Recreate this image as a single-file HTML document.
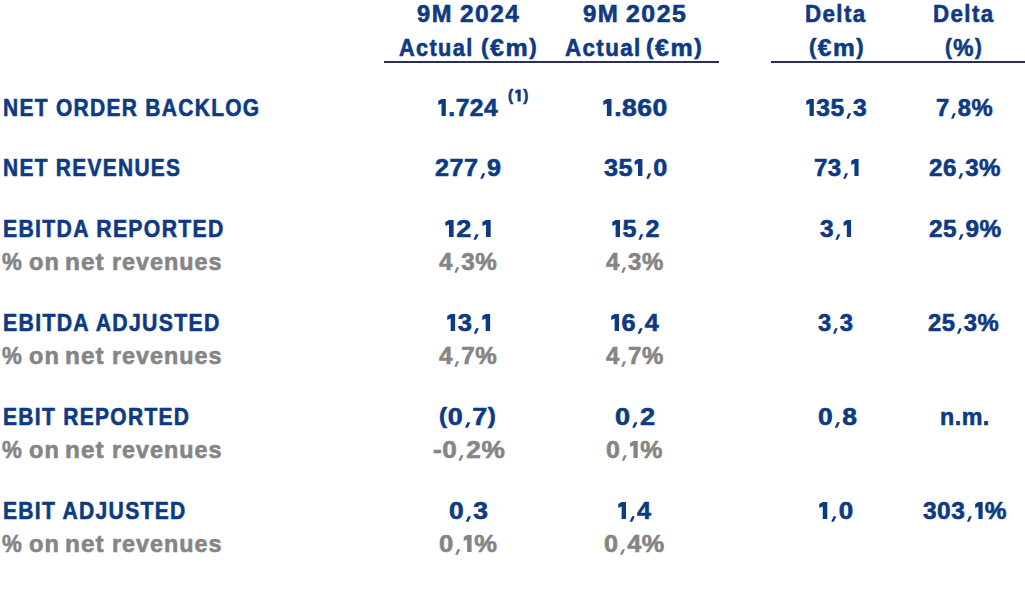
<!DOCTYPE html>
<html><head><meta charset="utf-8"><style>
html,body{margin:0;padding:0;background:#fff;width:1025px;height:591px;overflow:hidden}
.t{position:absolute;white-space:nowrap;font-family:"Liberation Sans",sans-serif;font-weight:bold;line-height:1;transform-origin:0 0;-webkit-text-stroke:0.5px currentColor}
.pp{font-size:0.9em;position:relative;top:-2px}
.one{width:0.4167em;height:0.7083em;fill:currentColor;vertical-align:baseline;margin-right:1px}
.cm{width:0.3em;height:0.25em;fill:currentColor;vertical-align:-0.125em;margin-right:1px}
.one1{width:0.45em;height:0.8125em;fill:currentColor;vertical-align:-1px;margin:0 2px 0 1px}
.ln{position:absolute;height:2px;background:#2a3150}
</style></head><body>
<div class="t" style="left:417.00px;top:2.00px;font-size:24px;color:#0d3a82;-webkit-text-stroke:0.6px #0d3a82;letter-spacing:1.5px;transform:scaleX(0.9856)">9M</div><div class="t" style="left:460.00px;top:2.00px;font-size:24px;color:#0d3a82;-webkit-text-stroke:0.6px #0d3a82;letter-spacing:1.5px;transform:scaleX(1.0174)">2024</div><div class="t" style="left:399.05px;top:36.00px;font-size:24px;color:#0d3a82;-webkit-text-stroke:0.6px #0d3a82;letter-spacing:1.5px;transform:scaleX(0.9052)">Actual</div><div class="t" style="left:480.97px;top:36.00px;font-size:24px;color:#0d3a82;-webkit-text-stroke:0.6px #0d3a82;letter-spacing:1.5px;transform:scaleX(1.0382)"><span class="pp">(</span>€m<span class="pp">)</span></div><div class="t" style="left:583.00px;top:2.00px;font-size:24px;color:#0d3a82;-webkit-text-stroke:0.6px #0d3a82;letter-spacing:1.5px;transform:scaleX(1.0000)">9M</div><div class="t" style="left:626.00px;top:2.00px;font-size:24px;color:#0d3a82;-webkit-text-stroke:0.6px #0d3a82;letter-spacing:1.5px;transform:scaleX(1.0345)">2025</div><div class="t" style="left:565.44px;top:36.00px;font-size:24px;color:#0d3a82;-webkit-text-stroke:0.6px #0d3a82;letter-spacing:1.5px;transform:scaleX(0.9305)">Actual</div><div class="t" style="left:645.96px;top:36.00px;font-size:24px;color:#0d3a82;-webkit-text-stroke:0.6px #0d3a82;letter-spacing:1.5px;transform:scaleX(1.0387)"><span class="pp">(</span>€m<span class="pp">)</span></div><div class="t" style="left:804.89px;top:2.00px;font-size:24px;color:#0d3a82;-webkit-text-stroke:0.6px #0d3a82;letter-spacing:1.5px;transform:scaleX(0.9298)">Delta</div><div class="t" style="left:808.98px;top:36.00px;font-size:24px;color:#0d3a82;-webkit-text-stroke:0.6px #0d3a82;letter-spacing:1.5px;transform:scaleX(1.0192)"><span class="pp">(</span>€m<span class="pp">)</span></div><div class="t" style="left:933.10px;top:2.00px;font-size:24px;color:#0d3a82;-webkit-text-stroke:0.6px #0d3a82;letter-spacing:1.5px;transform:scaleX(0.9298)">Delta</div><div class="t" style="left:945.22px;top:36.00px;font-size:24px;color:#0d3a82;-webkit-text-stroke:0.6px #0d3a82;letter-spacing:1.5px;transform:scaleX(0.9478)"><span class="pp">(</span>%<span class="pp">)</span></div><div class="t" style="left:3.13px;top:96.00px;font-size:24px;color:#0d3a82;-webkit-text-stroke:0.6px #0d3a82;letter-spacing:1.5px;transform:scaleX(0.8733)">NET ORDER BACKLOG</div><div class="t" style="left:436.77px;top:96.00px;font-size:24px;color:#0d3a82;-webkit-text-stroke:0.6px #0d3a82;letter-spacing:0.5px;transform:scaleX(1.0255)"><svg class="one" viewBox="0 0 10 17"><path d="M4.4,0H8.6V17H4.4V4.5L1.2,5.9V1.9Z"/></svg>.724</div><div class="t" style="left:508.00px;top:88.00px;font-size:16px;color:#0d3a82;-webkit-text-stroke:0.6px #0d3a82;letter-spacing:0.5px;transform:scaleX(0.9524)">(<svg class="one1" viewBox="0 0 10 17"><path d="M4.2,0H8.8V17H4.2V4.5L1.0,5.9V1.9Z"/></svg>)</div><div class="t" style="left:601.90px;top:96.00px;font-size:24px;color:#0d3a82;-webkit-text-stroke:0.6px #0d3a82;letter-spacing:0.5px;transform:scaleX(1.1034)"><svg class="one" viewBox="0 0 10 17"><path d="M4.4,0H8.6V17H4.4V4.5L1.2,5.9V1.9Z"/></svg>.860</div><div class="t" style="left:804.56px;top:96.00px;font-size:24px;color:#0d3a82;-webkit-text-stroke:0.6px #0d3a82;letter-spacing:0.5px;transform:scaleX(1.0256)"><svg class="one" viewBox="0 0 10 17"><path d="M4.4,0H8.6V17H4.4V4.5L1.2,5.9V1.9Z"/></svg>35<svg class="cm" viewBox="0 0 7.2 6"><path d="M3.4,0.3H6L3.6,5.8H1.2Z"/></svg>3</div><div class="t" style="left:936.20px;top:96.00px;font-size:24px;color:#0d3a82;-webkit-text-stroke:0.6px #0d3a82;letter-spacing:0.5px;transform:scaleX(0.9913)">7<svg class="cm" viewBox="0 0 7.2 6"><path d="M3.4,0.3H6L3.6,5.8H1.2Z"/></svg>8%</div><div class="t" style="left:3.13px;top:156.00px;font-size:24px;color:#0d3a82;-webkit-text-stroke:0.6px #0d3a82;letter-spacing:1.5px;transform:scaleX(0.8713)">NET REVENUES</div><div class="t" style="left:435.00px;top:156.00px;font-size:24px;color:#0d3a82;-webkit-text-stroke:0.6px #0d3a82;letter-spacing:0.5px;transform:scaleX(1.0476)">277<svg class="cm" viewBox="0 0 7.2 6"><path d="M3.4,0.3H6L3.6,5.8H1.2Z"/></svg>9</div><div class="t" style="left:604.00px;top:156.00px;font-size:24px;color:#0d3a82;-webkit-text-stroke:0.6px #0d3a82;letter-spacing:0.5px;transform:scaleX(1.0500)">35<svg class="one" viewBox="0 0 10 17"><path d="M4.4,0H8.6V17H4.4V4.5L1.2,5.9V1.9Z"/></svg><svg class="cm" viewBox="0 0 7.2 6"><path d="M3.4,0.3H6L3.6,5.8H1.2Z"/></svg>0</div><div class="t" style="left:814.00px;top:156.00px;font-size:24px;color:#0d3a82;-webkit-text-stroke:0.6px #0d3a82;letter-spacing:0.5px;transform:scaleX(1.0002)">73<svg class="cm" viewBox="0 0 7.2 6"><path d="M3.4,0.3H6L3.6,5.8H1.2Z"/></svg><svg class="one" viewBox="0 0 10 17"><path d="M4.4,0H8.6V17H4.4V4.5L1.2,5.9V1.9Z"/></svg></div><div class="t" style="left:929.00px;top:156.00px;font-size:24px;color:#0d3a82;-webkit-text-stroke:0.6px #0d3a82;letter-spacing:0.5px;transform:scaleX(1.0071)">26<svg class="cm" viewBox="0 0 7.2 6"><path d="M3.4,0.3H6L3.6,5.8H1.2Z"/></svg>3%</div><div class="t" style="left:3.12px;top:217.00px;font-size:24px;color:#0d3a82;-webkit-text-stroke:0.6px #0d3a82;letter-spacing:1.5px;transform:scaleX(0.8831)">EBITDA REPORTED</div><div class="t" style="left:2.21px;top:250.00px;font-size:24px;color:#858585;-webkit-text-stroke:0.6px #858585;letter-spacing:1.0px;transform:scaleX(0.9295)">%</div><div class="t" style="left:28.79px;top:250.00px;font-size:24px;color:#858585;-webkit-text-stroke:0.6px #858585;letter-spacing:1.0px;transform:scaleX(0.9829)">on</div><div class="t" style="left:65.18px;top:250.00px;font-size:24px;color:#858585;-webkit-text-stroke:0.6px #858585;letter-spacing:1.0px;transform:scaleX(1.0139)">net</div><div class="t" style="left:112.03px;top:250.00px;font-size:24px;color:#858585;-webkit-text-stroke:0.6px #858585;letter-spacing:1.0px;transform:scaleX(0.9730)">revenues</div><div class="t" style="left:444.49px;top:217.00px;font-size:24px;color:#0d3a82;-webkit-text-stroke:0.6px #0d3a82;letter-spacing:0.5px;transform:scaleX(1.1223)"><svg class="one" viewBox="0 0 10 17"><path d="M4.4,0H8.6V17H4.4V4.5L1.2,5.9V1.9Z"/></svg>2<svg class="cm" viewBox="0 0 7.2 6"><path d="M3.4,0.3H6L3.6,5.8H1.2Z"/></svg><svg class="one" viewBox="0 0 10 17"><path d="M4.4,0H8.6V17H4.4V4.5L1.2,5.9V1.9Z"/></svg></div><div class="t" style="left:610.78px;top:217.00px;font-size:24px;color:#0d3a82;-webkit-text-stroke:0.6px #0d3a82;letter-spacing:0.5px;transform:scaleX(1.0446)"><svg class="one" viewBox="0 0 10 17"><path d="M4.4,0H8.6V17H4.4V4.5L1.2,5.9V1.9Z"/></svg>5<svg class="cm" viewBox="0 0 7.2 6"><path d="M3.4,0.3H6L3.6,5.8H1.2Z"/></svg>2</div><div class="t" style="left:819.80px;top:217.00px;font-size:24px;color:#0d3a82;-webkit-text-stroke:0.6px #0d3a82;letter-spacing:0.5px;transform:scaleX(1.0162)">3<svg class="cm" viewBox="0 0 7.2 6"><path d="M3.4,0.3H6L3.6,5.8H1.2Z"/></svg><svg class="one" viewBox="0 0 10 17"><path d="M4.4,0H8.6V17H4.4V4.5L1.2,5.9V1.9Z"/></svg></div><div class="t" style="left:929.20px;top:217.00px;font-size:24px;color:#0d3a82;-webkit-text-stroke:0.6px #0d3a82;letter-spacing:0.5px;transform:scaleX(1.0142)">25<svg class="cm" viewBox="0 0 7.2 6"><path d="M3.4,0.3H6L3.6,5.8H1.2Z"/></svg>9%</div><div class="t" style="left:439.20px;top:250.00px;font-size:24px;color:#858585;-webkit-text-stroke:0.6px #858585;letter-spacing:0.5px;transform:scaleX(1.0089)">4<svg class="cm" viewBox="0 0 7.2 6"><path d="M3.4,0.3H6L3.6,5.8H1.2Z"/></svg>3%</div><div class="t" style="left:605.81px;top:250.00px;font-size:24px;color:#858585;-webkit-text-stroke:0.6px #858585;letter-spacing:0.5px;transform:scaleX(1.0002)">4<svg class="cm" viewBox="0 0 7.2 6"><path d="M3.4,0.3H6L3.6,5.8H1.2Z"/></svg>3%</div><div class="t" style="left:3.12px;top:311.00px;font-size:24px;color:#0d3a82;-webkit-text-stroke:0.6px #0d3a82;letter-spacing:1.5px;transform:scaleX(0.8848)">EBITDA ADJUSTED</div><div class="t" style="left:2.21px;top:344.00px;font-size:24px;color:#858585;-webkit-text-stroke:0.6px #858585;letter-spacing:1.0px;transform:scaleX(0.9295)">%</div><div class="t" style="left:28.79px;top:344.00px;font-size:24px;color:#858585;-webkit-text-stroke:0.6px #858585;letter-spacing:1.0px;transform:scaleX(0.9829)">on</div><div class="t" style="left:65.18px;top:344.00px;font-size:24px;color:#858585;-webkit-text-stroke:0.6px #858585;letter-spacing:1.0px;transform:scaleX(1.0139)">net</div><div class="t" style="left:112.03px;top:344.00px;font-size:24px;color:#858585;-webkit-text-stroke:0.6px #858585;letter-spacing:1.0px;transform:scaleX(0.9730)">revenues</div><div class="t" style="left:445.73px;top:311.00px;font-size:24px;color:#0d3a82;-webkit-text-stroke:0.6px #0d3a82;letter-spacing:0.5px;transform:scaleX(1.0612)"><svg class="one" viewBox="0 0 10 17"><path d="M4.4,0H8.6V17H4.4V4.5L1.2,5.9V1.9Z"/></svg>3<svg class="cm" viewBox="0 0 7.2 6"><path d="M3.4,0.3H6L3.6,5.8H1.2Z"/></svg><svg class="one" viewBox="0 0 10 17"><path d="M4.4,0H8.6V17H4.4V4.5L1.2,5.9V1.9Z"/></svg></div><div class="t" style="left:610.13px;top:311.00px;font-size:24px;color:#0d3a82;-webkit-text-stroke:0.6px #0d3a82;letter-spacing:0.5px;transform:scaleX(1.0544)"><svg class="one" viewBox="0 0 10 17"><path d="M4.4,0H8.6V17H4.4V4.5L1.2,5.9V1.9Z"/></svg>6<svg class="cm" viewBox="0 0 7.2 6"><path d="M3.4,0.3H6L3.6,5.8H1.2Z"/></svg>4</div><div class="t" style="left:818.20px;top:311.00px;font-size:24px;color:#0d3a82;-webkit-text-stroke:0.6px #0d3a82;letter-spacing:0.5px;transform:scaleX(0.9860)">3<svg class="cm" viewBox="0 0 7.2 6"><path d="M3.4,0.3H6L3.6,5.8H1.2Z"/></svg>3</div><div class="t" style="left:928.20px;top:311.00px;font-size:24px;color:#0d3a82;-webkit-text-stroke:0.6px #0d3a82;letter-spacing:0.5px;transform:scaleX(0.9931)">25<svg class="cm" viewBox="0 0 7.2 6"><path d="M3.4,0.3H6L3.6,5.8H1.2Z"/></svg>3%</div><div class="t" style="left:439.20px;top:344.00px;font-size:24px;color:#858585;-webkit-text-stroke:0.6px #858585;letter-spacing:0.5px;transform:scaleX(1.0089)">4<svg class="cm" viewBox="0 0 7.2 6"><path d="M3.4,0.3H6L3.6,5.8H1.2Z"/></svg>7%</div><div class="t" style="left:605.81px;top:344.00px;font-size:24px;color:#858585;-webkit-text-stroke:0.6px #858585;letter-spacing:0.5px;transform:scaleX(1.0002)">4<svg class="cm" viewBox="0 0 7.2 6"><path d="M3.4,0.3H6L3.6,5.8H1.2Z"/></svg>7%</div><div class="t" style="left:3.13px;top:405.00px;font-size:24px;color:#0d3a82;-webkit-text-stroke:0.6px #0d3a82;letter-spacing:1.5px;transform:scaleX(0.8744)">EBIT REPORTED</div><div class="t" style="left:2.21px;top:438.00px;font-size:24px;color:#858585;-webkit-text-stroke:0.6px #858585;letter-spacing:1.0px;transform:scaleX(0.9295)">%</div><div class="t" style="left:28.79px;top:438.00px;font-size:24px;color:#858585;-webkit-text-stroke:0.6px #858585;letter-spacing:1.0px;transform:scaleX(0.9829)">on</div><div class="t" style="left:65.18px;top:438.00px;font-size:24px;color:#858585;-webkit-text-stroke:0.6px #858585;letter-spacing:1.0px;transform:scaleX(1.0139)">net</div><div class="t" style="left:112.03px;top:438.00px;font-size:24px;color:#858585;-webkit-text-stroke:0.6px #858585;letter-spacing:1.0px;transform:scaleX(0.9730)">revenues</div><div class="t" style="left:439.17px;top:405.00px;font-size:24px;color:#0d3a82;-webkit-text-stroke:0.6px #0d3a82;letter-spacing:0.5px;transform:scaleX(1.1202)"><span class="pp">(</span>0<svg class="cm" viewBox="0 0 7.2 6"><path d="M3.4,0.3H6L3.6,5.8H1.2Z"/></svg>7<span class="pp">)</span></div><div class="t" style="left:614.95px;top:405.00px;font-size:24px;color:#0d3a82;-webkit-text-stroke:0.6px #0d3a82;letter-spacing:0.5px;transform:scaleX(1.1294)">0<svg class="cm" viewBox="0 0 7.2 6"><path d="M3.4,0.3H6L3.6,5.8H1.2Z"/></svg>2</div><div class="t" style="left:817.96px;top:405.00px;font-size:24px;color:#0d3a82;-webkit-text-stroke:0.6px #0d3a82;letter-spacing:0.5px;transform:scaleX(1.1004)">0<svg class="cm" viewBox="0 0 7.2 6"><path d="M3.4,0.3H6L3.6,5.8H1.2Z"/></svg>8</div><div class="t" style="left:939.63px;top:405.00px;font-size:24px;color:#0d3a82;-webkit-text-stroke:0.6px #0d3a82;letter-spacing:0.5px;transform:scaleX(0.9696)">n.m.</div><div class="t" style="left:432.52px;top:438.00px;font-size:24px;color:#858585;-webkit-text-stroke:0.6px #858585;letter-spacing:0.5px;transform:scaleX(1.0924)">-0<svg class="cm" viewBox="0 0 7.2 6"><path d="M3.4,0.3H6L3.6,5.8H1.2Z"/></svg>2%</div><div class="t" style="left:606.17px;top:438.00px;font-size:24px;color:#858585;-webkit-text-stroke:0.6px #858585;letter-spacing:0.5px;transform:scaleX(1.0379)">0<svg class="cm" viewBox="0 0 7.2 6"><path d="M3.4,0.3H6L3.6,5.8H1.2Z"/></svg><svg class="one" viewBox="0 0 10 17"><path d="M4.4,0H8.6V17H4.4V4.5L1.2,5.9V1.9Z"/></svg>%</div><div class="t" style="left:3.12px;top:499.00px;font-size:24px;color:#0d3a82;-webkit-text-stroke:0.6px #0d3a82;letter-spacing:1.5px;transform:scaleX(0.8768)">EBIT ADJUSTED</div><div class="t" style="left:2.21px;top:532.00px;font-size:24px;color:#858585;-webkit-text-stroke:0.6px #858585;letter-spacing:1.0px;transform:scaleX(0.9295)">%</div><div class="t" style="left:28.79px;top:532.00px;font-size:24px;color:#858585;-webkit-text-stroke:0.6px #858585;letter-spacing:1.0px;transform:scaleX(0.9829)">on</div><div class="t" style="left:65.18px;top:532.00px;font-size:24px;color:#858585;-webkit-text-stroke:0.6px #858585;letter-spacing:1.0px;transform:scaleX(1.0139)">net</div><div class="t" style="left:112.03px;top:532.00px;font-size:24px;color:#858585;-webkit-text-stroke:0.6px #858585;letter-spacing:1.0px;transform:scaleX(0.9730)">revenues</div><div class="t" style="left:449.17px;top:499.00px;font-size:24px;color:#0d3a82;-webkit-text-stroke:0.6px #0d3a82;letter-spacing:0.5px;transform:scaleX(1.1003)">0<svg class="cm" viewBox="0 0 7.2 6"><path d="M3.4,0.3H6L3.6,5.8H1.2Z"/></svg>3</div><div class="t" style="left:616.95px;top:499.00px;font-size:24px;color:#0d3a82;-webkit-text-stroke:0.6px #0d3a82;letter-spacing:0.5px;transform:scaleX(1.0472)"><svg class="one" viewBox="0 0 10 17"><path d="M4.4,0H8.6V17H4.4V4.5L1.2,5.9V1.9Z"/></svg><svg class="cm" viewBox="0 0 7.2 6"><path d="M3.4,0.3H6L3.6,5.8H1.2Z"/></svg>4</div><div class="t" style="left:818.08px;top:499.00px;font-size:24px;color:#0d3a82;-webkit-text-stroke:0.6px #0d3a82;letter-spacing:0.5px;transform:scaleX(1.0810)"><svg class="one" viewBox="0 0 10 17"><path d="M4.4,0H8.6V17H4.4V4.5L1.2,5.9V1.9Z"/></svg><svg class="cm" viewBox="0 0 7.2 6"><path d="M3.4,0.3H6L3.6,5.8H1.2Z"/></svg>0</div><div class="t" style="left:923.00px;top:499.00px;font-size:24px;color:#0d3a82;-webkit-text-stroke:0.6px #0d3a82;letter-spacing:0.5px;transform:scaleX(1.0184)">303<svg class="cm" viewBox="0 0 7.2 6"><path d="M3.4,0.3H6L3.6,5.8H1.2Z"/></svg><svg class="one" viewBox="0 0 10 17"><path d="M4.4,0H8.6V17H4.4V4.5L1.2,5.9V1.9Z"/></svg>%</div><div class="t" style="left:439.17px;top:532.00px;font-size:24px;color:#858585;-webkit-text-stroke:0.6px #858585;letter-spacing:0.5px;transform:scaleX(1.0651)">0<svg class="cm" viewBox="0 0 7.2 6"><path d="M3.4,0.3H6L3.6,5.8H1.2Z"/></svg><svg class="one" viewBox="0 0 10 17"><path d="M4.4,0H8.6V17H4.4V4.5L1.2,5.9V1.9Z"/></svg>%</div><div class="t" style="left:604.16px;top:532.00px;font-size:24px;color:#858585;-webkit-text-stroke:0.6px #858585;letter-spacing:0.5px;transform:scaleX(1.0537)">0<svg class="cm" viewBox="0 0 7.2 6"><path d="M3.4,0.3H6L3.6,5.8H1.2Z"/></svg>4%</div>

<div class="ln" style="left:384px;top:61px;width:335px"></div>
<div class="ln" style="left:771px;top:61px;width:254px"></div>

</body></html>
